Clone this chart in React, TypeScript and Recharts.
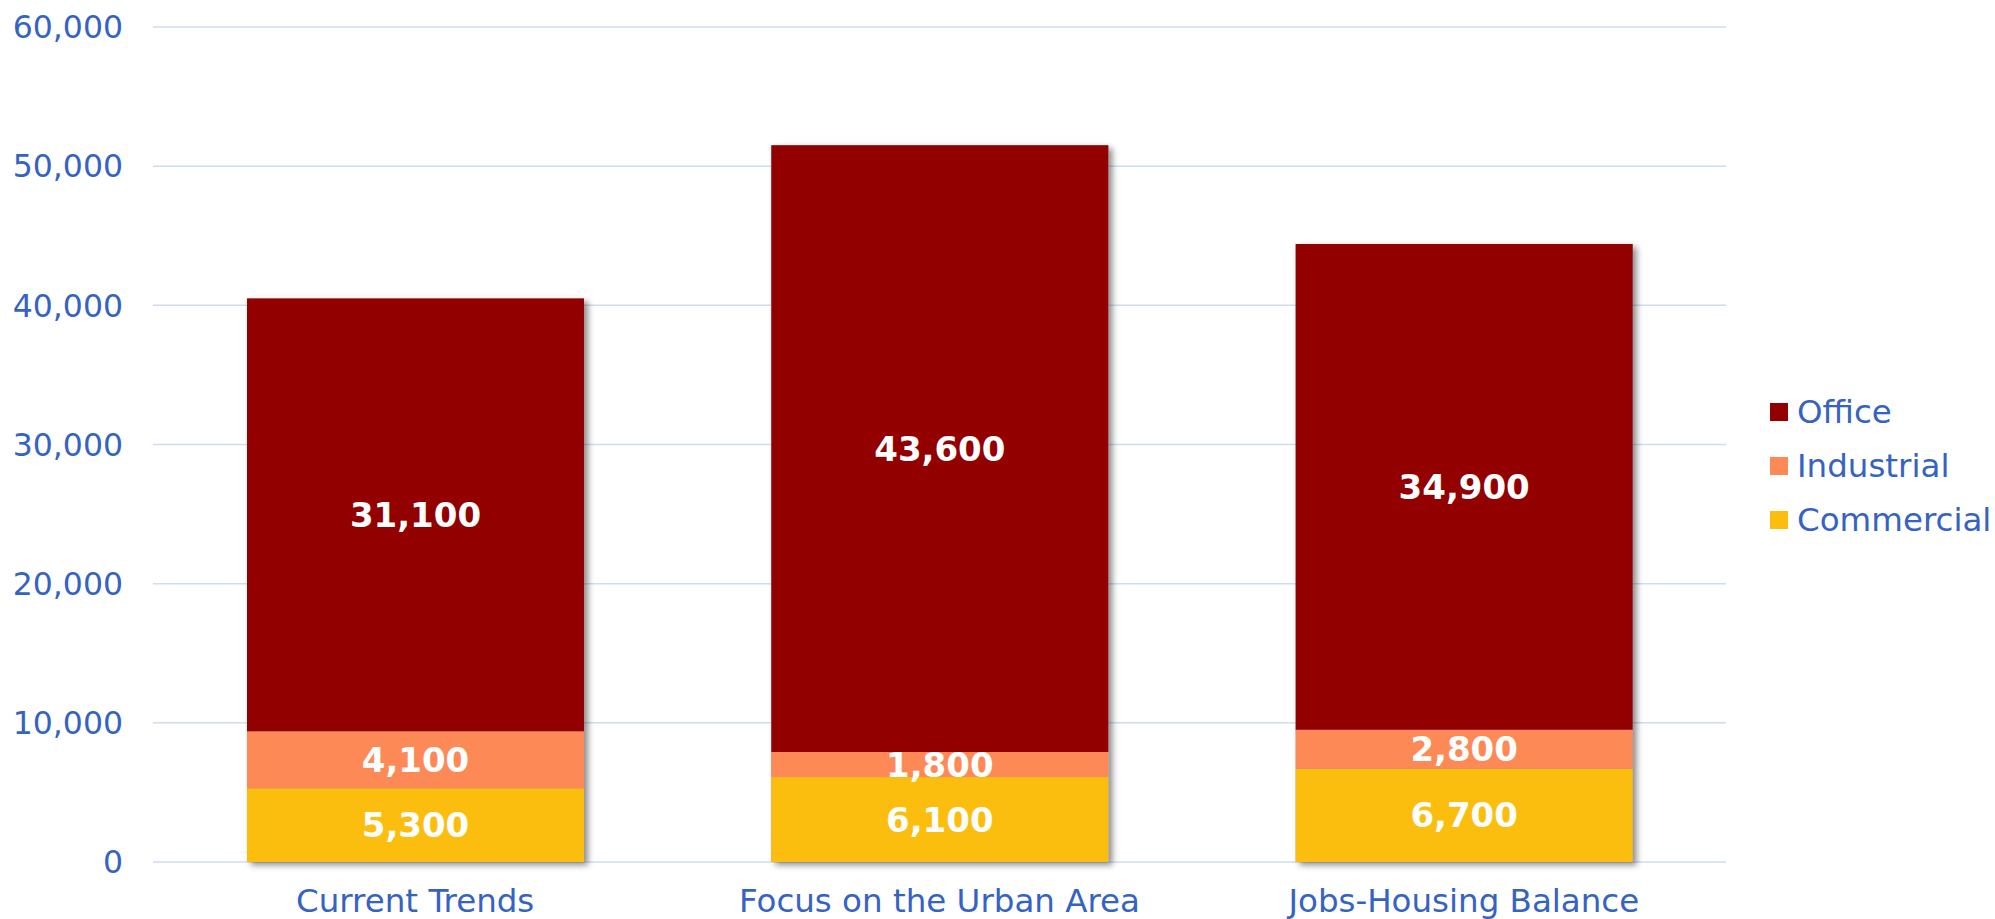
import React from 'react';
import { BarChart, Bar, XAxis, YAxis, CartesianGrid, LabelList } from 'recharts';

const categories = ['Current Trends', 'Focus on the Urban Area', 'Jobs-Housing Balance'];
const commercial = [5300, 6100, 6700];
const industrial = [4100, 1800, 2800];
const office = [31100, 43600, 34900];
const yTicks = [0, 10000, 20000, 30000, 40000, 50000, 60000];

const seriesInfo = [
  { key: 'office', name: 'Office', color: '#930000' },
  { key: 'industrial', name: 'Industrial', color: '#FD8957' },
  { key: 'commercial', name: 'Commercial', color: '#FCBE0E' },
];

const data = categories.map((name, i) => ({
  name,
  commercial: commercial[i],
  industrial: industrial[i],
  office: office[i],
}));

const TEXT_BLUE = '#3563C3';
const FONT = '"DejaVu Sans", sans-serif';
const fmt = (v: any) => Number(v).toLocaleString('en-US');

// bottom segment also draws the shadow for the whole stack
const ShadowedBottom = (props: any) => {
  const { x, y, width, height, payload, fill } = props;
  const total = payload.commercial + payload.industrial + payload.office;
  const totalH = (height * total) / payload.commercial;
  const topY = y + height - totalH;
  return (
    <g>
      <rect x={x} y={topY} width={width} height={totalH} fill="#999" filter="url(#barShadow)" />
      <rect x={x} y={y} width={width} height={height} fill={fill} />
    </g>
  );
};

const labelStyle = { fill: '#fff', fontSize: 34, fontWeight: 700, fontFamily: FONT };

export default function App() {
  return (
    <div style={{ position: 'absolute', left: 0, top: 0, width: 1995, height: 919, background: '#fff' }}>
      <BarChart
        width={1995}
        height={919}
        data={data}
        margin={{ top: 27, right: 269, bottom: 17, left: 0 }}
        barSize={337}
      >
        <defs>
          <filter id="barShadow" x="-10%" y="-10%" width="120%" height="120%">
            <feDropShadow dx={4} dy={3} stdDeviation={3} floodColor="#000" floodOpacity={0.45} />
          </filter>
        </defs>
        <CartesianGrid vertical={false} stroke="#D0DCF0" strokeWidth={1.5} />
        <XAxis
          dataKey="name"
          axisLine={false}
          tickLine={false}
          tickSize={0}
          tickMargin={27}
          height={40}
          tick={{ fill: TEXT_BLUE, fontSize: 32.5, fontFamily: FONT }}
          interval={0}
        />
        <YAxis
          domain={[0, 60000]}
          ticks={yTicks}
          width={153}
          axisLine={false}
          tickLine={false}
          tickSize={0}
          tickMargin={30}
          tickFormatter={fmt}
          tick={{ fill: TEXT_BLUE, fontSize: 31.5, fontFamily: FONT }}
        />
        <Bar dataKey="commercial" stackId="a" fill="#FCBE0E" shape={ShadowedBottom} isAnimationActive={false}>
          <LabelList dataKey="commercial" position="center" formatter={fmt} style={labelStyle} />
        </Bar>
        <Bar dataKey="industrial" stackId="a" fill="#FD8957" isAnimationActive={false}>
          <LabelList dataKey="industrial" position="center" formatter={fmt} style={labelStyle} />
        </Bar>
        <Bar dataKey="office" stackId="a" fill="#930000" isAnimationActive={false}>
          <LabelList dataKey="office" position="center" formatter={fmt} style={labelStyle} />
        </Bar>
      </BarChart>
      <div style={{ position: 'absolute', left: 1770, top: 385, fontFamily: FONT, fontSize: 32.5, color: TEXT_BLUE }}>
        {seriesInfo.map((s) => (
          <div key={s.key} style={{ display: 'flex', alignItems: 'center', height: 54 }}>
            <span style={{ width: 18, height: 18, background: s.color, display: 'inline-block', marginRight: 9 }} />
            <span>{s.name}</span>
          </div>
        ))}
      </div>
    </div>
  );
}
